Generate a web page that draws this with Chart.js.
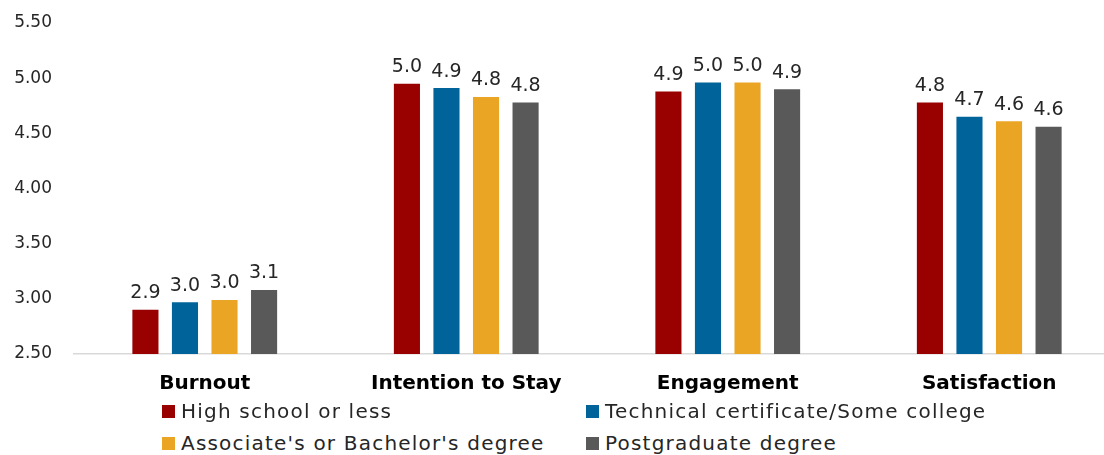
<!DOCTYPE html>
<html>
<head>
<meta charset="utf-8">
<script src="https://cdn.jsdelivr.net/npm/chart.js@4"></script>
<style>
  html, body { margin: 0; padding: 0; background: #fff; overflow: hidden; }
  #wrap { position: relative; width: 1120px; height: 455px; }
  #chart { position: absolute; left: 0; top: 0; }
  #legend { position: absolute; left: 162px; top: 399px; font-family: "DejaVu Sans", sans-serif; font-size: 20px; letter-spacing: 1.2px; color: #262626; }
  .item { position: absolute; white-space: nowrap; display: flex; align-items: center; }
  .box { width: 13px; height: 13px; margin-right: 6px; }
</style>
</head>
<body>
<div id="wrap">
  <canvas id="chart" width="1120" height="400"></canvas>
  <div id="legend"></div>
</div>
<script>
const categories = ['Burnout', 'Intention to Stay', 'Engagement', 'Satisfaction'];
const seriesNames = [
  'High school or less',
  'Technical certificate/Some college',
  "Associate's or Bachelor's degree",
  'Postgraduate degree'
];
const highSchool = [2.90, 4.95, 4.88, 4.78];
const someCollege = [2.97, 4.91, 4.96, 4.65];
const bachelor = [2.99, 4.83, 4.96, 4.61];
const postgrad = [3.08, 4.78, 4.90, 4.56];
const yTicks = [2.5, 3.0, 3.5, 4.0, 4.5, 5.0, 5.5];
const colors = ['#990000', '#00639a', '#eba524', '#595959'];

const font = "'DejaVu Sans', sans-serif";

// value labels drawn just above each bar
const barLabels = {
  id: 'barLabels',
  afterDatasetsDraw(chart) {
    const ctx = chart.ctx;
    ctx.save();
    ctx.font = '19px ' + font;
    ctx.fillStyle = '#262626';
    ctx.textAlign = 'center';
    ctx.textBaseline = 'bottom';
    chart.data.datasets.forEach((ds, i) => {
      chart.getDatasetMeta(i).data.forEach((bar, j) => {
        ctx.fillText(ds.data[j].toFixed(1), bar.x, bar.y - 7);
      });
    });
    ctx.restore();
  }
};

const chart = new Chart(document.getElementById('chart'), {
  type: 'bar',
  data: {
    labels: categories,
    datasets: [highSchool, someCollege, bachelor, postgrad].map((d, i) => ({
      label: seriesNames[i],
      data: d,
      backgroundColor: colors[i],
      categoryPercentage: 0.605,
      barPercentage: 0.66
    }))
  },
  options: {
    responsive: false,
    animation: false,
    layout: { padding: { top: 10, right: 0, left: 0, bottom: 0 } },
    plugins: {
      legend: { display: false },
      tooltip: { enabled: false }
    },
    scales: {
      x: {
        grid: { display: false, drawTicks: false },
        border: { display: true, color: '#d9d9d9', width: 1.5 },
        ticks: { padding: 18, color: '#000', font: { family: font, size: 20, weight: 'bold' } },
        afterFit: s => { s.height = 46; }
      },
      y: {
        min: 2.5,
        max: 5.5,
        afterBuildTicks: s => { s.ticks = yTicks.map(v => ({ value: v })); },
        grid: { display: false, drawTicks: false },
        border: { display: false },
        ticks: {
          padding: 22,
          color: '#262626',
          font: { family: font, size: 17 },
          callback: v => v.toFixed(2)
        },
        afterFit: s => { s.width = 74; s.paddingTop = 23; }
      }
    }
  },
  plugins: [barLabels]
});

// two-column legend below the axis
const legend = document.getElementById('legend');
const slots = [[0, 0], [424, 0], [0, 32], [424, 32]];
chart.data.datasets.forEach((ds, i) => {
  const el = document.createElement('div');
  el.className = 'item';
  el.style.left = slots[i][0] + 'px';
  el.style.top = slots[i][1] + 'px';
  el.innerHTML = '<span class="box" style="background:' + ds.backgroundColor + '"></span>' + ds.label;
  legend.appendChild(el);
});
</script>
</body>
</html>
